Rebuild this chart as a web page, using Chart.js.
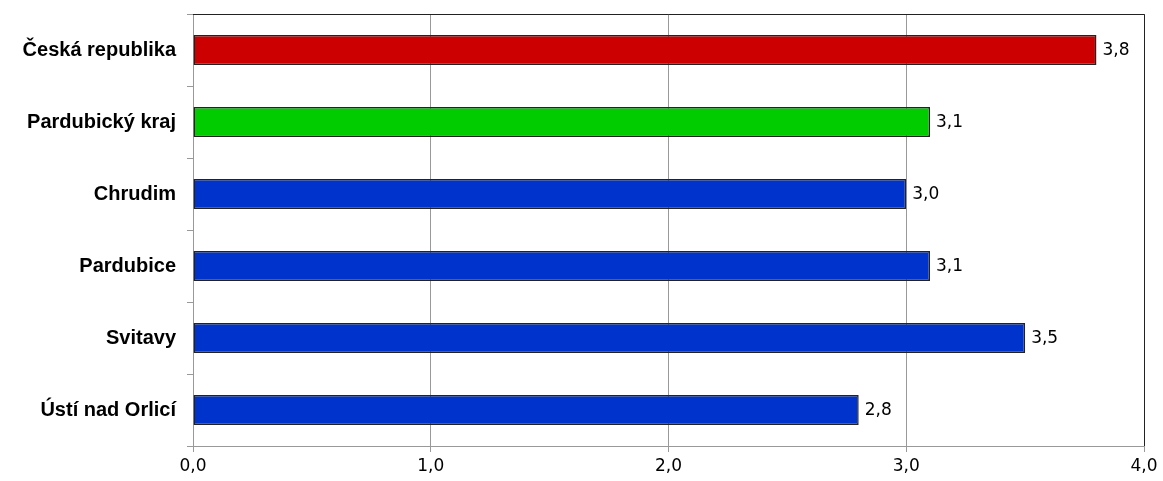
<!DOCTYPE html>
<html>
<head>
<meta charset="utf-8">
<script src="https://cdn.jsdelivr.net/npm/chart.js@4/dist/chart.umd.min.js"></script>
<style>
  html, body { margin: 0; padding: 0; background: #fff; }
  #wrap { width: 1163px; height: 481px; }
</style>
</head>
<body>
<div id="wrap"><canvas id="chart"></canvas></div>
<script>
const categories = ['Česká republika', 'Pardubický kraj', 'Chrudim', 'Pardubice', 'Svitavy', 'Ústí nad Orlicí'];
const values = [3.8, 3.1, 3.0, 3.1, 3.5, 2.8];
const barColors = ['#cc0000', '#00cc00', '#0033cc', '#0033cc', '#0033cc', '#0033cc'];
const xTicks = [0, 1, 2, 3, 4];

const fmt = v => v.toFixed(1).replace('.', ',');

// hodnoty za koncem sloupců + rámeček
const extras = {
    id: 'extras',
    afterDatasetsDraw(chart) {
        const ctx = chart.ctx;
        const meta = chart.getDatasetMeta(0);
        ctx.save();
        ctx.font = '17px "DejaVu Sans"';
        ctx.fillStyle = '#000';
        ctx.textBaseline = 'middle';
        meta.data.forEach((bar, i) => {
            ctx.fillText(fmt(values[i]), bar.x + 6, bar.y + 1);
        });
        const a = chart.chartArea;
        ctx.strokeStyle = '#222';
        ctx.lineWidth = 1;
        ctx.beginPath();
        ctx.moveTo(a.left, a.top + 0.5);
        ctx.lineTo(a.right + 0.5, a.top + 0.5);
        ctx.lineTo(a.right + 0.5, a.bottom);
        ctx.stroke();
        ctx.restore();
    }
};

new Chart(document.getElementById('chart'), {
    type: 'bar',
    data: {
        labels: categories,
        datasets: [{
            data: values,
            backgroundColor: barColors,
            borderColor: '#222',
            borderWidth: 1.5,
            borderSkipped: false,
            barPercentage: 0.42,
            categoryPercentage: 1
        }]
    },
    options: {
        indexAxis: 'y',
        responsive: true,
        maintainAspectRatio: false,
        animation: false,
        layout: { padding: { top: 14, right: 19, left: 0, bottom: 0 } },
        plugins: { legend: { display: false }, tooltip: { enabled: false } },
        scales: {
            x: {
                min: 0, max: 4,
                afterBuildTicks: s => { s.ticks = xTicks.map(v => ({ value: v })); },
                afterFit: s => { s.height = 35; },
                grid: { color: '#999', tickLength: 6, drawTicks: true },
                border: { color: '#999' },
                ticks: {
                    color: '#000',
                    font: { family: 'DejaVu Sans', size: 17 },
                    callback: v => fmt(v),
                    padding: 4
                }
            },
            y: {
                afterFit: s => { s.width = 193; s.paddingTop = 0; s.paddingBottom = 0; },
                grid: { drawOnChartArea: false, offset: true, tickLength: 6, color: '#999' },
                border: { color: '#999' },
                ticks: {
                    color: '#000',
                    font: { family: 'Liberation Sans', size: 20, weight: 'bold' },
                    padding: 11
                }
            }
        }
    },
    plugins: [extras]
});
</script>
</body>
</html>
